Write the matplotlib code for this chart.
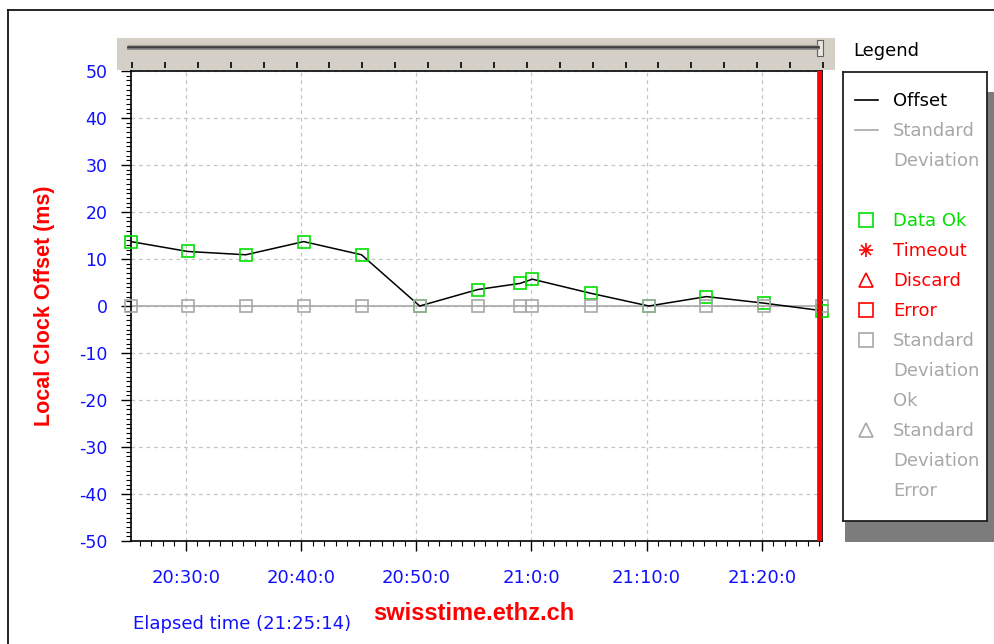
import numpy as np
import matplotlib.pyplot as plt
from matplotlib.patches import Rectangle
from matplotlib.lines import Line2D

plt.rcParams['font.family'] = ['DejaVu Sans']

times = ["20:25:14", "20:30:10", "20:35:12", "20:40:14", "20:45:15", "20:50:18", "20:55:20",
         "20:59:00", "21:00:05", "21:05:10", "21:10:12", "21:15:12", "21:20:13", "21:25:14"]
offset_ms = [13.7, 11.6, 10.9, 13.7, 10.9, 0.0, 3.5, 4.8, 5.7, 2.7, 0.0, 2.0, 0.6, -1.0]
std_ms = [0, 0, 0, 0, 0, 0, 0, 0, 0, 0, 0, 0, 0, 0]

x_tick_labels = ["20:30:0", "20:40:0", "20:50:0", "21:0:0", "21:10:0", "21:20:0"]
y_ticks = [50, 40, 30, 20, 10, 0, -10, -20, -30, -40, -50]
start_time = "20:25:14"
end_time = "21:25:14"

legend_rows = [
    ("line", "black", "Offset"),
    ("line", "#a8a8a8", "Standard"),
    (None, "#a8a8a8", "Deviation"),
    (None, None, ""),
    ("s", "#00e000", "Data Ok"),
    ("star", "#ff0000", "Timeout"),
    ("^", "#ff0000", "Discard"),
    ("s", "#ff0000", "Error"),
    ("s", "#a8a8a8", "Standard"),
    (None, "#a8a8a8", "Deviation"),
    (None, "#a8a8a8", "Ok"),
    ("^", "#a8a8a8", "Standard"),
    (None, "#a8a8a8", "Deviation"),
    (None, "#a8a8a8", "Error"),
]


def to_min(s):
    parts = [int(p) for p in s.split(":")]
    return parts[0] * 60 + parts[1] + parts[2] / 60.0


t = np.array([to_min(s) for s in times])
x_ticks = [to_min(s) for s in x_tick_labels]
t0 = to_min(start_time)
t1 = to_min(end_time)

W, H = 994, 644
fig = plt.figure(figsize=(W / 100, H / 100), dpi=100)
fig.patch.set_facecolor("white")


def box(x0, y0, x1, y1):
    # pixel box (top-left origin) -> figure fraction rect
    return [x0 / W, 1 - y1 / H, (x1 - x0) / W, (y1 - y0) / H]


# outer frame
fig.add_artist(Line2D([8 / W, 8 / W], [0, 1 - 10 / H], color="black", lw=1.2))
fig.add_artist(Line2D([8 / W, 1], [1 - 10 / H, 1 - 10 / H], color="black", lw=1.2))

# main plot
ax = fig.add_axes(box(131, 71, 822, 541))
ax.set_xlim(t0, t1)
ax.set_ylim(-50, 50)

ax.set_xticks(x_ticks)
ax.set_xticklabels(x_tick_labels)
ax.set_xticks(np.arange(np.ceil(t0), t1, 1), minor=True)
ax.set_yticks(y_ticks)
ax.set_yticklabels([str(v) for v in y_ticks])
ax.set_yticks(np.arange(-50, 51, 1), minor=True)

ax.tick_params(which="major", direction="out", length=7, width=1, color="black",
               labelcolor="#1010ff", labelsize=12.5)
ax.tick_params(which="minor", direction="out", length=3.5, width=0.8, color="black")
ax.tick_params(axis="x", pad=13, labelsize=13)
ax.tick_params(axis="y", pad=10)
for sp in ax.spines.values():
    sp.set_linewidth(1.2)

ax.grid(True, which="major", color="#c4c4c4", linestyle=(0, (3, 3)), linewidth=0.9)

ax.plot(t, std_ms, color="#a8a8a8", lw=1.2, zorder=2)
ax.plot(t, offset_ms, color="black", lw=1.1, zorder=3)
ax.plot(t, offset_ms, ls="none", marker="s", ms=8.5, mfc="none", mec="#00e000", mew=1.2,
        zorder=4, clip_on=False)
ax.plot(t, std_ms, ls="none", marker="s", ms=8.5, mfc="none", mec="#a8a8a8", mew=1.2,
        zorder=4, clip_on=False)
ax.axvline(t1, color="#ff0000", lw=7, zorder=5)

ax.set_ylabel("Local Clock Offset (ms)", color="#ff0000", fontsize=15.5, fontweight="bold",
              family=["Liberation Sans", "DejaVu Sans"])
ax.yaxis.set_label_coords(55 / W, 1 - 306 / H, transform=fig.transFigure)

fig.text(133 / W, 1 - 624 / H, "Elapsed time (" + end_time + ")", color="#1010ff",
         fontsize=13, va="center", ha="left")
fig.text(373 / W, 1 - 613 / H, "swisstime.ethz.ch", color="#ff0000", fontsize=17,
         fontweight="bold", va="center", ha="left", family=["Liberation Sans", "DejaVu Sans"])

# scrollbar strip above the plot
sb = fig.add_axes(box(117, 38, 835, 70))
sb.set_xlim(117, 835)
sb.set_ylim(70, 38)
sb.set_facecolor("#d4d0c8")
for sp in sb.spines.values():
    sp.set_visible(False)
sb.set_xticks([])
sb.set_yticks([])
sb.plot([128, 818], [44.5, 44.5], color="#a8a49c", lw=1)
sb.plot([128, 818], [46.5, 46.5], color="#404040", lw=2)
sb.plot([128, 818], [48.8, 48.8], color="#808080", lw=1.2)
sb.add_patch(Rectangle((817, 40), 6, 16, facecolor="#e8e6e0", edgecolor="#606060", lw=0.8))
sb.vlines(np.linspace(132, 823, 22), 62, 68, color="black", lw=1.2)

# legend with shadow
fig.add_artist(Rectangle((845 / W, 1 - 542 / H), 1, (542 - 92) / H,
                         transform=fig.transFigure, facecolor="#7c7c7c", edgecolor="none",
                         zorder=0))
fig.text(853 / W, 1 - 51 / H, "Legend", color="black", fontsize=13, va="center", ha="left")
lg = fig.add_axes(box(843, 72, 987, 521))
lg.set_xlim(843, 987)
lg.set_ylim(521, 72)
lg.set_facecolor("white")
lg.set_xticks([])
lg.set_yticks([])
for sp in lg.spines.values():
    sp.set_linewidth(1.3)
    sp.set_color("#202020")

for i, (kind, col, label) in enumerate(legend_rows):
    y = 100 + 30 * i
    if kind == "line":
        lg.plot([855, 878], [y, y], color=col, lw=1.2)
    elif kind == "star":
        lg.plot([866], [y], marker="+", ms=10, mec=col, mew=1.2)
        lg.plot([866], [y], marker="x", ms=7, mec=col, mew=1.2)
    elif kind is not None:
        lg.plot([866], [y], marker=kind, ms=10, mfc="none", mec=col, mew=1.2)
    if label:
        lg.text(893, y + 1, label, color=col, fontsize=13, va="center", ha="left")

fig.savefig("out.png", dpi=100)
